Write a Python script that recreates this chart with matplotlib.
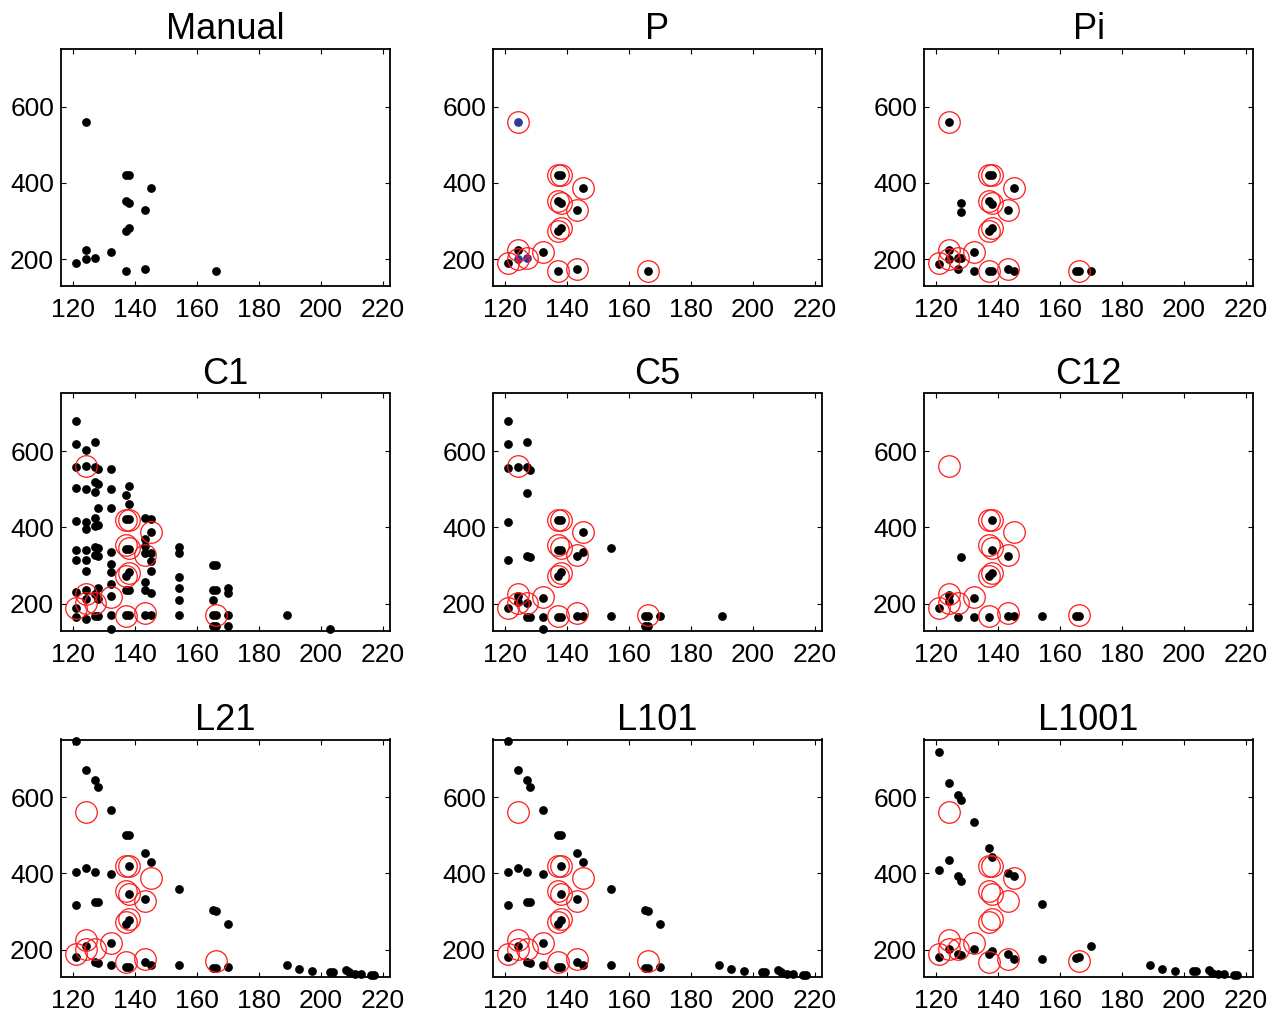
import matplotlib
matplotlib.use("Agg")
import matplotlib.pyplot as plt

plt.rcParams["font.family"] = ["Liberation Sans", "DejaVu Sans"]

# manually picked peaks (also drawn as red rings on the other panels)
MANUAL_X = [124, 137, 138, 145, 137, 138, 143, 137, 138, 124, 124, 127, 121, 132, 137, 143, 166]
MANUAL_Y = [560, 420, 420, 388, 354, 347, 328, 273, 281, 225, 201, 203, 190, 218, 168, 175, 170]

P_X = [121, 124, 132, 137, 138, 145, 137, 138, 143, 137, 138, 137, 143, 166]
P_Y = [190, 225, 218, 420, 420, 388, 354, 347, 328, 273, 281, 168, 175, 170]
P_BLUE_X = [124, 124, 127]
P_BLUE_Y = [560, 201, 203]

PI_X = [124, 137, 138, 145, 137, 138, 143, 137, 138, 128, 128, 124, 124, 127, 128,
        121, 127, 132, 132, 137, 138, 143, 145, 165, 166, 170]
PI_Y = [560, 420, 420, 388, 352, 346, 328, 273, 281, 347, 324, 225, 201, 203, 203,
        188, 174, 218, 168, 168, 168, 175, 168, 170, 170, 170]

C1_X = [121, 121, 121, 121, 121, 121, 121, 121, 121, 121,
        124, 124, 124, 124, 124, 124, 124, 124, 124, 124, 124,
        127, 128, 127, 127, 128, 127, 128, 127, 127, 128, 127, 128, 127, 128, 128, 127, 128, 127, 128,
        132, 132, 132, 132, 132, 132, 132, 132, 132, 132,
        138, 137, 138, 137, 138, 137, 138, 137, 138, 137, 138, 137, 138,
        143, 145, 145, 143, 143, 143, 145, 145, 145, 143, 143, 145, 143, 145,
        154, 154, 154, 154, 154, 154,
        165, 166, 165, 166, 165, 165, 166, 165, 166,
        170, 170, 170, 170,
        189, 203]
C1_Y = [678, 619, 558, 503, 417, 341, 315, 232, 190, 165,
        602, 560, 500, 415, 396, 341, 315, 287, 235, 213, 161,
        624, 552, 558, 519, 515, 493, 450, 426, 405, 406, 350, 345, 329, 326, 242, 226, 213, 168, 168,
        554, 502, 450, 337, 304, 284, 252, 220, 170, 135,
        509, 484, 461, 422, 422, 343, 343, 272, 284, 235, 235, 170, 170,
        426, 422, 389, 370, 352, 332, 332, 313, 287, 258, 235, 229, 170, 170,
        350, 333, 270, 242, 210, 170,
        302, 302, 235, 235, 210, 170, 170, 142, 142,
        242, 229, 170, 142,
        171, 135]

C5_X = [121, 121, 127, 121, 124, 127, 128, 127, 121, 121, 127, 128,
        137, 138, 145, 137, 138, 143, 145, 137, 138, 154,
        124, 124, 127, 121, 127, 128, 132, 132, 132, 137, 138, 143, 145,
        154, 165, 166, 165, 166, 170, 190]
C5_Y = [679, 618, 624, 555, 558, 558, 550, 490, 414, 316, 325, 323,
        420, 420, 389, 342, 342, 326, 337, 273, 282, 346,
        221, 204, 202, 189, 165, 165, 215, 165, 134, 165, 165, 167, 167,
        167, 167, 167, 141, 141, 168, 168]

C12_X = [138, 138, 128, 143, 137, 138, 124, 124, 121, 127, 132, 132, 137, 143, 145, 154, 165, 166]
C12_Y = [420, 342, 322, 326, 272, 281, 224, 206, 189, 165, 215, 165, 165, 167, 167, 167, 168, 168]

L21_X = [121, 124, 127, 128, 132, 137, 138, 143, 145,
         121, 124, 127, 132, 138, 121, 127, 128, 138, 143, 138, 137,
         154, 165, 166, 170, 132, 124, 121, 127, 128, 132, 137, 138, 143, 145,
         154, 165, 166, 170, 189, 193, 197, 203, 204, 208, 209, 211, 213, 216, 217]
L21_Y = [746, 672, 644, 626, 567, 502, 502, 453, 429,
         403, 413, 403, 399, 420, 317, 325, 324, 345, 334, 277, 267,
         359, 305, 302, 268, 218, 209, 182, 169, 166, 161, 154, 154, 167, 161,
         159, 153, 153, 154, 161, 150, 144, 142, 142, 147, 142, 137, 137, 133, 133]

# L101 result is indistinguishable from L21
L101_X = list(L21_X)
L101_Y = list(L21_Y)

L1001_X = [121, 124, 127, 128, 132, 137, 138, 121, 124, 127, 128, 143, 145, 154,
           132, 124, 121, 127, 128, 138, 137, 143, 145, 154, 165, 166, 170,
           189, 193, 197, 203, 204, 208, 209, 211, 213, 216, 217]
L1001_Y = [718, 637, 606, 593, 534, 468, 442, 409, 435, 394, 379, 400, 394, 319,
           203, 201, 181, 190, 186, 197, 188, 188, 176, 175, 179, 182, 209,
           161, 150, 144, 144, 144, 146, 140, 137, 137, 133, 133]

PANELS = [
    ("Manual", MANUAL_X, MANUAL_Y),
    ("P", P_X, P_Y),
    ("Pi", PI_X, PI_Y),
    ("C1", C1_X, C1_Y),
    ("C5", C5_X, C5_Y),
    ("C12", C12_X, C12_Y),
    ("L21", L21_X, L21_Y),
    ("L101", L101_X, L101_Y),
    ("L1001", L1001_X, L1001_Y),
]

W, H = 1284, 1019
fig = plt.figure(figsize=(W / 100, H / 100), dpi=100)

col_left = [61, 493, 924]
row_top = [49, 393.5, 739.5]
ax_w, ax_h = 329, 237

for i, (title, xs, ys) in enumerate(PANELS):
    r, c = divmod(i, 3)
    ax = fig.add_axes([col_left[c] / W, 1 - (row_top[r] + ax_h) / H, ax_w / W, ax_h / H])
    ax.plot(xs, ys, "o", color="black", ms=6.3, mew=0, zorder=2, clip_on=False)
    if title == "P":
        ax.plot(P_BLUE_X, P_BLUE_Y, "o", color="#303a96", ms=6.3, mew=0, zorder=3)
    if title != "Manual":
        ax.plot(MANUAL_X, MANUAL_Y, "o", mfc="none", mec="#ff1a1a", ms=15.5, mew=0.9, zorder=4)
    ax.set_xlim(116, 222.3)
    ax.set_ylim(130, 751)
    ax.set_xticks([120, 140, 160, 180, 200, 220])
    ax.set_yticks([200, 400, 600])
    ax.tick_params(direction="in", length=3.5, width=0.8, top=True, right=True,
                   labelsize=19, colors="black")
    ax.tick_params(axis="x", pad=9)
    ax.tick_params(axis="y", pad=5)
    for s in ax.spines.values():
        s.set_linewidth(1.3)
    ax.set_title(title, fontsize=26, pad=7)

fig.savefig("out.png", dpi=100)
